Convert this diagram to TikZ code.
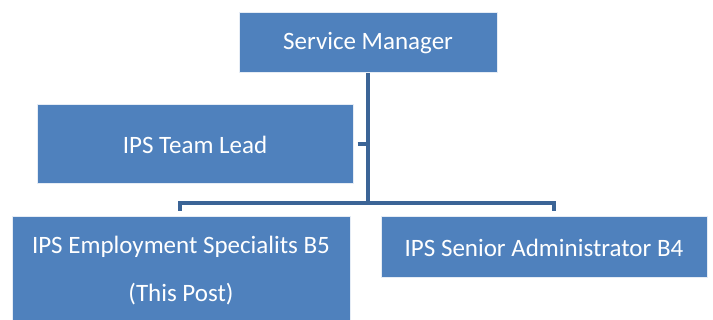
\documentclass[tikz,border=0pt]{standalone}
\usepackage{fontspec}
\setmainfont{Carlito}
\definecolor{boxblue}{HTML}{4F81BD}
\definecolor{linkblue}{HTML}{3B6496}

\begin{document}
\begin{tikzpicture}[x=1pt,y=-1pt,
  post/.style={draw=white!85!boxblue,line width=1pt,fill=boxblue,text=white,
    font=\fontsize{25}{48}\selectfont,align=center,inner sep=0pt},
  link/.style={draw=linkblue,line width=4pt}]
\useasboundingbox (0,0) rectangle (713,320);

\node[post,minimum width=258pt,minimum height=60pt] (sm) at (368,43) {Service Manager};
\node[post,minimum width=316pt,minimum height=79pt] (lead) at (195,144.5) {IPS Team Lead};
\node[post,minimum width=338pt,minimum height=108pt] (spec) at (181,271) {IPS Employment Specialits B5\\(This Post)};
\node[post,minimum width=326pt,minimum height=61pt] (admin) at (544,247.5) {IPS Senior Administrator B4};

% trunk, side link and bus
\coordinate (bus) at (368,203);
\coordinate (busL) at (180,203);
\coordinate (busR) at (554,203);
\draw[link] (sm.south) -- (bus);
\draw[link,shorten <=4pt] (lead.east) -- (lead.east -| bus);
\draw[link,line cap=rect] (busL) -- (busR);
\draw[link,shorten >=5pt] (busL) -- (busL |- spec.north);
\draw[link,shorten >=5pt] (busR) -- (busR |- admin.north);
\end{tikzpicture}
\end{document}
